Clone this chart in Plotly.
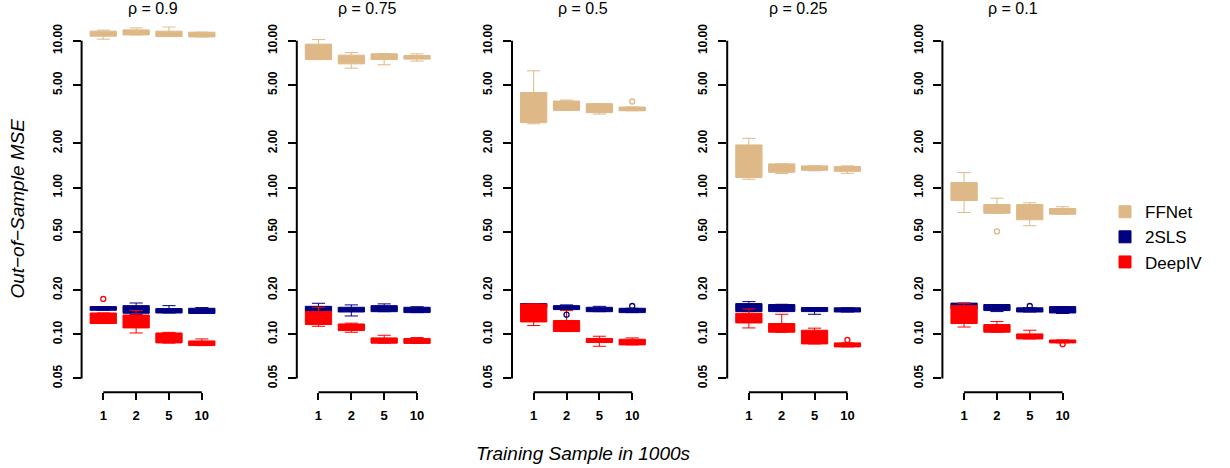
import plotly.graph_objects as go

# ---------------- data ----------------
panel_titles = ["ρ = 0.9", "ρ = 0.75", "ρ = 0.5", "ρ = 0.25", "ρ = 0.1"]
sample_labels = ["1", "2", "5", "10"]
sample_pos = [1, 2, 3, 4]
methods = ["FFNet", "2SLS", "DeepIV"]
method_colors = ["#DEB887", "#000080", "#FF0000"]

y_tickvals = [0.05, 0.1, 0.2, 0.5, 1, 2, 5, 10]
y_ticktext = ["0.05", "0.10", "0.20", "0.50", "1.00", "2.00", "5.00", "10.00"]

# FFNet box statistics (one row per panel, one value per sample size)
ffnet_lo = [[10.27, 10.98, 10.70, 10.64], [7.46, 6.52, 6.87, 7.28], [2.72, 3.36, 3.17, 3.34],
            [1.139, 1.245, 1.30, 1.251], [0.676, 0.668, 0.549, 0.658]]
ffnet_q1 = [[10.76, 10.98, 10.70, 10.64], [7.46, 6.97, 7.46, 7.51], [2.77, 3.36, 3.24, 3.34],
            [1.17, 1.27, 1.311, 1.29], [0.816, 0.668, 0.603, 0.658]]
ffnet_med = [[11.2, 11.4, 11.1, 11.0], [8.3, 7.5, 7.9, 7.7], [3.4, 3.6, 3.5, 3.45],
             [1.45, 1.36, 1.36, 1.34], [0.93, 0.72, 0.68, 0.69]]
ffnet_q3 = [[11.64, 11.88, 11.64, 11.46], [9.50, 7.99, 8.16, 7.94], [4.45, 3.89, 3.73, 3.54],
            [1.952, 1.45, 1.405, 1.39], [1.081, 0.766, 0.766, 0.72]]
ffnet_hi = [[11.83, 12.25, 12.45, 11.46], [10.2, 8.32, 8.2, 8.16], [6.25, 3.95, 3.73, 3.54],
            [2.165, 1.45, 1.405, 1.405], [1.264, 0.846, 0.787, 0.74]]

# 2SLS box statistics
tsls_lo = [[0.1457, 0.136, 0.1396, 0.1385], [0.140, 0.1332, 0.1425, 0.1404], [0.150, 0.1472, 0.1425, 0.1404],
           [0.1427, 0.1427, 0.1368, 0.1418], [0.148, 0.1427, 0.1418, 0.1385]]
tsls_q1 = [[0.1457, 0.139, 0.1396, 0.1385], [0.1434, 0.1418, 0.1425, 0.1404], [0.152, 0.1472, 0.1425, 0.1404],
           [0.1427, 0.1427, 0.1427, 0.1418], [0.150, 0.145, 0.1418, 0.1396]]
tsls_med = [[0.150, 0.149, 0.145, 0.144], [0.149, 0.147, 0.149, 0.146], [0.157, 0.152, 0.148, 0.145],
            [0.152, 0.151, 0.147, 0.146], [0.157, 0.152, 0.146, 0.147]]
tsls_q3 = [[0.1543, 0.1567, 0.1496, 0.1503], [0.155, 0.1527, 0.1567, 0.1527], [0.162, 0.1567, 0.1527, 0.1503],
           [0.1618, 0.1594, 0.1521, 0.1514], [0.163, 0.1594, 0.1514, 0.1543]]
tsls_hi = [[0.1543, 0.1633, 0.1567, 0.152], [0.1626, 0.1585, 0.161, 0.154], [0.162, 0.1585, 0.155, 0.1503],
           [0.1669, 0.160, 0.1521, 0.1514], [0.163, 0.1594, 0.1514, 0.1543]]

# DeepIV box statistics
deepiv_lo = [[0.1183, 0.102, 0.087, 0.0837], [0.1133, 0.1032, 0.0869, 0.0866], [0.1146, 0.1043, 0.0828, 0.0846],
             [0.1104, 0.1032, 0.0859, 0.082], [0.112, 0.1032, 0.0929, 0.0873]]
deepiv_q1 = [[0.1183, 0.1104, 0.0873, 0.0837], [0.1164, 0.1059, 0.0869, 0.0866], [0.1213, 0.1043, 0.0878, 0.0846],
             [0.1194, 0.1032, 0.0859, 0.082], [0.1183, 0.1032, 0.0929, 0.0873]]
deepiv_med = [[0.128, 0.122, 0.094, 0.087], [0.128, 0.112, 0.091, 0.090], [0.140, 0.113, 0.091, 0.089],
              [0.129, 0.110, 0.096, 0.085], [0.136, 0.109, 0.097, 0.089]]
deepiv_q3 = [[0.1396, 0.1353, 0.102, 0.090], [0.1427, 0.1175, 0.0944, 0.0936], [0.1608, 0.124, 0.0936, 0.0925],
             [0.139, 0.1183, 0.1065, 0.0873], [0.1567, 0.1164, 0.1005, 0.0914]]
deepiv_hi = [[0.1396, 0.145, 0.103, 0.0929], [0.1527, 0.119, 0.0984, 0.0949], [0.1608, 0.145, 0.0969, 0.0944],
             [0.1487, 0.1368, 0.110, 0.0873], [0.1618, 0.122, 0.1065, 0.0914]]

# Outliers: (panel index, method index, sample position, value)
outlier_panel = [0, 2, 2, 2, 3, 4, 4, 4]
outlier_method = [2, 0, 1, 1, 2, 0, 1, 2]
outlier_x = [1, 4, 2, 4, 4, 2, 3, 4]
outlier_y = [0.174, 3.86, 0.136, 0.1558, 0.0914, 0.502, 0.1558, 0.0855]

stats = [
    (ffnet_lo, ffnet_q1, ffnet_med, ffnet_q3, ffnet_hi),
    (tsls_lo, tsls_q1, tsls_med, tsls_q3, tsls_hi),
    (deepiv_lo, deepiv_q1, deepiv_med, deepiv_q3, deepiv_hi),
]

# ---------------- layout geometry ----------------
W, H = 1230, 468
FONT = "Liberation Sans, Arial, Helvetica, sans-serif"
panel_left = [81.6, 296.8, 512.0, 727.2, 942.4]
panel_w = 141.9
top_px, bot_px = 24.3, 392.0
y_range = [-1.396, 1.100]

fig = go.Figure()
layout = dict(
    width=W, height=H,
    margin=dict(l=0, r=0, t=0, b=0),
    paper_bgcolor="white", plot_bgcolor="white",
    boxmode="overlay",
    font=dict(family=FONT, color="black"),
    showlegend=True,
    legend=dict(
        x=1105 / W, xanchor="left", y=1 - 193 / H, yanchor="top",
        font=dict(size=17, family=FONT, color="black"),
        bgcolor="rgba(0,0,0,0)", borderwidth=0, tracegroupgap=0,
    ),
)
shapes = []
annotations = []

for p in range(5):
    k = "" if p == 0 else str(p + 1)
    xa, ya = "x" + k, "y" + k
    for m in range(3):
        lo, q1, med, q3, hi = stats[m]
        fig.add_trace(go.Box(
            x=sample_pos,
            lowerfence=lo[p], q1=q1[p], median=med[p], q3=q3[p], upperfence=hi[p],
            width=0.8, whiskerwidth=0.5,
            fillcolor=method_colors[m],
            line=dict(color=method_colors[m], width=1),
            boxpoints=False,
            name=methods[m], legendgroup=methods[m], showlegend=(p == 0),
            xaxis=xa, yaxis=ya, hoverinfo="skip",
        ))
    # outliers for this panel
    for m in range(3):
        xs = [outlier_x[i] for i in range(len(outlier_x)) if outlier_panel[i] == p and outlier_method[i] == m]
        ys = [outlier_y[i] for i in range(len(outlier_y)) if outlier_panel[i] == p and outlier_method[i] == m]
        if xs:
            fig.add_trace(go.Scatter(
                x=xs, y=ys, mode="markers",
                marker=dict(symbol="circle-open", size=5, color=method_colors[m], line=dict(width=1.3)),
                showlegend=False, legendgroup=methods[m], xaxis=xa, yaxis=ya, hoverinfo="skip",
            ))

    x0 = panel_left[p] / W
    x1 = (panel_left[p] + panel_w) / W
    layout["xaxis" + k] = dict(
        domain=[x0, x1], anchor=ya, range=[0.34, 4.66],
        tickmode="array", tickvals=sample_pos, ticktext=sample_labels,
        showline=False, showgrid=False, zeroline=False,
        ticks="outside", ticklen=7, tickwidth=2, tickcolor="black",
        tickfont=dict(size=13, family=FONT, color="black", weight="bold"),
        ticklabelstandoff=4,
    )
    layout["yaxis" + k] = dict(
        domain=[1 - bot_px / H, 1 - top_px / H], anchor=xa, type="log", range=y_range,
        tickmode="array", tickvals=y_tickvals, ticktext=y_ticktext,
        showline=False, showgrid=False, zeroline=False,
        ticks="outside", ticklen=8, tickwidth=2, tickcolor="black",
        tickangle=-90,
        tickfont=dict(size=12, family=FONT, color="black", weight="bold"),
        ticklabelstandoff=6,
    )
    # detached R-style axis lines
    shapes.append(dict(type="line", xref=xa + " domain", yref=ya, x0=0, x1=0,
                       y0=y_tickvals[0], y1=y_tickvals[-1], line=dict(color="black", width=2)))
    shapes.append(dict(type="line", xref=xa, yref=ya + " domain", x0=sample_pos[0], x1=sample_pos[-1],
                       y0=0, y1=0, line=dict(color="black", width=2)))
    annotations.append(dict(
        text=panel_titles[p], xref="paper", yref="paper",
        x=(panel_left[p] + panel_w / 2) / W, y=1 - 7 / H, xanchor="center", yanchor="middle",
        showarrow=False, font=dict(size=16, family=FONT, color="black"),
    ))

annotations.append(dict(
    text="<i>Out−of−Sample MSE</i>", xref="paper", yref="paper",
    x=18 / W, y=1 - 207.5 / H, xanchor="center", yanchor="middle", textangle=-90,
    showarrow=False, font=dict(size=19, family=FONT, color="black"),
))
annotations.append(dict(
    text="<i>Training Sample in 1000s</i>", xref="paper", yref="paper",
    x=583 / W, y=1 - 453 / H, xanchor="center", yanchor="middle",
    showarrow=False, font=dict(size=19, family=FONT, color="black"),
))

layout["shapes"] = shapes
layout["annotations"] = annotations
fig.update_layout(**layout)
fig.write_html(
    "out.html",
    config={"displayModeBar": False},
    post_script="document.body.style.margin='0';document.body.style.padding='0';",
)
